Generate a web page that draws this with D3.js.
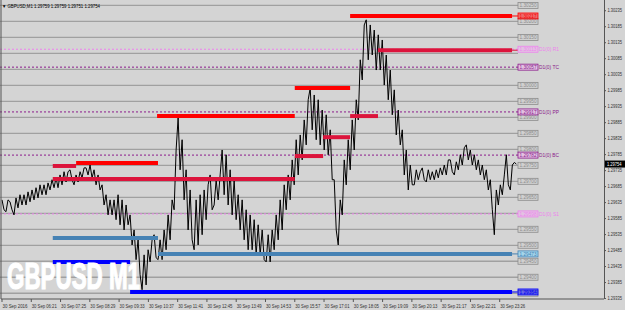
<!DOCTYPE html>
<html>
<head>
<meta charset="utf-8">
<script src="https://cdnjs.cloudflare.com/ajax/libs/d3/7.8.5/d3.min.js"></script>
<style>
  body { margin: 0; background: #d4d4d4; }
  svg { display: block; font-family: "Liberation Sans", Tahoma, sans-serif; }
</style>
</head>
<body>
<svg></svg>
<script>
  var width = 625;
  var height = 310;

  // price samples (high, low) every 8.75 minutes from 05:17
  var sampleStep = 8.75;
  var highs = [1.29642,1.29642,1.29636,1.29648,1.29658,1.29658,1.29667,1.29673,1.29680,1.29689,1.29689,1.29695,1.29705,1.29711,1.29720,1.29730,1.29730,1.29736,1.29720,1.29730,1.29742,1.29742,1.29751,1.29736,1.29720,1.29689,1.29658,1.29642,1.29642,1.29658,1.29642,1.29626,1.29595,1.29548,1.29517,1.29470,1.29486,1.29517,1.29533,1.29517,1.29548,1.29595,1.29642,1.29798,1.29898,1.29830,1.29736,1.29673,1.29642,1.29658,1.29673,1.29689,1.29720,1.29705,1.29720,1.29798,1.29783,1.29736,1.29705,1.29658,1.29642,1.29611,1.29595,1.29580,1.29564,1.29548,1.29533,1.29548,1.29595,1.29642,1.29689,1.29720,1.29767,1.29830,1.29845,1.29892,1.29955,1.29992,1.29970,1.29955,1.29923,1.29908,1.29861,1.29705,1.29642,1.29767,1.29830,1.29892,1.29955,1.30080,1.30189,1.30205,1.30189,1.30173,1.30158,1.30142,1.30095,1.30048,1.29986,1.29923,1.29861,1.29798,1.29751,1.29736,1.29730,1.29742,1.29736,1.29730,1.29736,1.29742,1.29751,1.29767,1.29767,1.29761,1.29783,1.29805,1.29814,1.29798,1.29783,1.29767,1.29751,1.29736,1.29705,1.29673,1.29689,1.29720,1.29783,1.29751,1.29759];
  var lows = [1.29611,1.29605,1.29611,1.29595,1.29617,1.29626,1.29626,1.29636,1.29642,1.29648,1.29658,1.29658,1.29673,1.29680,1.29680,1.29689,1.29698,1.29705,1.29689,1.29698,1.29711,1.29720,1.29711,1.29689,1.29673,1.29626,1.29595,1.29595,1.29580,1.29564,1.29548,1.29564,1.29501,1.29455,1.29408,1.29361,1.29376,1.29448,1.29461,1.29455,1.29455,1.29486,1.29517,1.29611,1.29736,1.29642,1.29548,1.29517,1.29486,1.29501,1.29533,1.29580,1.29611,1.29626,1.29642,1.29658,1.29626,1.29595,1.29580,1.29548,1.29517,1.29486,1.29486,1.29470,1.29470,1.29455,1.29448,1.29448,1.29486,1.29517,1.29548,1.29611,1.29642,1.29689,1.29720,1.29767,1.29814,1.29861,1.29830,1.29814,1.29798,1.29783,1.29705,1.29548,1.29501,1.29595,1.29689,1.29736,1.29798,1.29892,1.30017,1.30080,1.30095,1.30048,1.30048,1.30001,1.29955,1.29908,1.29845,1.29814,1.29720,1.29673,1.29689,1.29689,1.29705,1.29705,1.29698,1.29705,1.29705,1.29711,1.29720,1.29720,1.29730,1.29720,1.29736,1.29751,1.29767,1.29751,1.29736,1.29720,1.29705,1.29673,1.29611,1.29533,1.29626,1.29658,1.29689,1.29673,1.29754];

  // round-number levels (gray)
  var roundLevels = [1.30250,1.30200,1.30150,1.30100,1.30050,1.30000,1.29950,1.29900,1.29850,1.29800,1.29750,1.29700,1.29650,1.29600,1.29550,1.29500,1.29450,1.29400,1.29350];

  // pivot levels
  var pivotNames = ['R1', 'TC', 'PP', 'BC', 'S1'];
  var pivotPrices = [1.30113, 1.30057, 1.29917, 1.29782, 1.29598];
  var pivotColors = ['#ee82ee', '#8b1a8b', '#8b1a8b', '#8b1a8b', '#ee82ee'];

  // support / resistance segments: start min, end min, price, colour
  var zoneStart = [761, 822, 640, 339, 761, 702, 640, 162, 111, 111, 111, 341, 111, 280];
  var zoneEnd   = [1115, 1115, 761, 640, 822, 761, 702, 341, 162, 640, 341, 1115, 280, 1115];
  var zonePrice = [1.30217, 1.30110, 1.29992, 1.29904, 1.29904, 1.29838, 1.29779, 1.29757, 1.29748, 1.29707, 1.29523, 1.29473, 1.29448, 1.29354];
  var zoneColor = ['#ff0000', '#dc143c', '#ff0000', '#ff0000', '#dc143c', '#dc143c', '#dc143c', '#ff0000', '#dc143c', '#dc143c', '#4682b4', '#4682b4', '#0000ff', '#0000ff'];

  var priceTicks = [1.30235,1.30185,1.30135,1.30085,1.30035,1.29985,1.29935,1.29885,1.29835,1.29785,1.29735,1.29685,1.29635,1.29585,1.29535,1.29485,1.29435,1.29385,1.29335];
  var timeLabels = ['30 Sep 2016','30 Sep 06:21','30 Sep 07:25','30 Sep 08:29','30 Sep 09:33','30 Sep 10:37','30 Sep 11:41','30 Sep 12:45','30 Sep 13:49','30 Sep 14:53','30 Sep 15:57','30 Sep 17:01','30 Sep 18:05','30 Sep 19:09','30 Sep 20:13','30 Sep 21:17','30 Sep 22:21','30 Sep 23:26'];
  var lastPrice = 1.29754;

  var svg = d3.select('svg')
    .attr('width', width)
    .attr('height', height)
    ;

  var plotRight = 604;
  var plotBottom = 299;
  var labelX = 518;

  var x = d3.scaleLinear().domain([0, 1316]).range([2, plotRight]);
  var y = d3.scaleLinear().domain([1.29332, 1.30267]).range([plotBottom, 0]);
  var fmt = d3.format('.5f');

  svg.append('rect')
    .attr('width', width)
    .attr('height', height)
    .attr('fill', '#d4d4d4');

  // gray round levels
  svg.selectAll('line.round')
    .data(roundLevels)
    .enter()
    .append('line')
    .attr('class', 'round')
    .attr('x1', 0)
    .attr('x2', labelX)
    .attr('y1', function (d) { return y(d); })
    .attr('y2', function (d) { return y(d); })
    .attr('stroke', '#a0a0a0')
    .attr('stroke-width', 1.3);

  // pivot dotted lines
  svg.selectAll('line.pivot')
    .data(pivotPrices)
    .enter()
    .append('line')
    .attr('class', 'pivot')
    .attr('x1', 0)
    .attr('x2', labelX)
    .attr('y1', function (d) { return y(d); })
    .attr('y2', function (d) { return y(d); })
    .attr('stroke', function (d, i) { return pivotColors[i]; })
    .attr('stroke-width', 1)
    .attr('stroke-dasharray', '2,2');

  // price line: inside each sample go low->high when rising, high->low when falling
  var pts = [];
  highs.forEach(function (h, i) {
    var t = i * sampleStep;
    var mid = (h + lows[i]) / 2;
    var next = i < highs.length - 1 ? (highs[i + 1] + lows[i + 1]) / 2 : mid;
    if (next > mid) {
      pts.push([t, lows[i]]);
      pts.push([t + sampleStep * 0.5, h]);
    } else {
      pts.push([t, h]);
      pts.push([t + sampleStep * 0.5, lows[i]]);
    }
  });
  svg.append('path')
    .datum(pts)
    .attr('d', d3.line()
      .x(function (d) { return x(d[0]); })
      .y(function (d) { return y(d[1]); }))
    .attr('fill', 'none')
    .attr('stroke', '#000')
    .attr('stroke-width', 1);

  // zone segments
  svg.selectAll('line.zone')
    .data(zonePrice)
    .enter()
    .append('line')
    .attr('class', 'zone')
    .attr('x1', function (d, i) { return x(zoneStart[i]); })
    .attr('x2', function (d, i) { return x(zoneEnd[i]); })
    .attr('y1', function (d) { return y(d); })
    .attr('y2', function (d) { return y(d); })
    .attr('stroke', function (d, i) { return zoneColor[i]; })
    .attr('stroke-width', 4);

  // thin connectors from long zones to the label column
  var joined = [0, 1, 11, 13];
  var boxed = [0, 11, 13];
  svg.selectAll('line.conn')
    .data(joined)
    .enter()
    .append('line')
    .attr('x1', function (d) { return x(zoneEnd[d]); })
    .attr('x2', labelX)
    .attr('y1', function (d) { return y(zonePrice[d]); })
    .attr('y2', function (d) { return y(zonePrice[d]); })
    .attr('stroke', function (d) { return zoneColor[d]; })
    .attr('stroke-width', 1);

  // label boxes
  function drawBox(price, stroke, fill, txt) {
    var g = svg.append('g')
      .attr('transform', 'translate(' + labelX + ',' + y(price) + ')');
    g.append('rect')
      .attr('x', 0)
      .attr('y', -3)
      .attr('width', 20)
      .attr('height', 6)
      .attr('fill', fill)
      .attr('stroke', stroke)
      .attr('stroke-width', 0.8);
    g.append('text')
      .attr('x', 1.5)
      .attr('y', 1.8)
      .attr('font-size', 5)
      .attr('textLength', 17)
      .attr('lengthAdjust', 'spacingAndGlyphs')
      .attr('fill', txt)
      .text(fmt(price));
    return g;
  }
  // round labels hidden behind a pivot label are skipped
  roundLevels.forEach(function (p) {
    var covered = pivotPrices.some(function (q) { return Math.abs(q - p) < 0.00015; });
    if (!covered) {
      drawBox(p, '#8c8c8c', '#d0d0d0', '#8c8c8c');
    }
  });
  boxed.forEach(function (d) {
    drawBox(zonePrice[d], zoneColor[d], d3.color(zoneColor[d]).brighter(1.4).copy({opacity: 0.5}), zoneColor[d]);
  });
  pivotPrices.forEach(function (p, i) {
    var g = drawBox(p, pivotColors[i], '#e2c2e2', pivotColors[i]);
    g.append('text')
      .attr('x', 21)
      .attr('y', 1.8)
      .attr('font-size', 5)
      .attr('textLength', 20)
      .attr('lengthAdjust', 'spacingAndGlyphs')
      .attr('fill', pivotColors[i])
      .text('D1(0)  ' + pivotNames[i]);
  });

  // frame
  svg.append('line')
    .attr('x1', 1).attr('x2', 1)
    .attr('y1', 0).attr('y2', plotBottom)
    .attr('stroke', '#555');
  svg.append('line')
    .attr('x1', 1).attr('x2', plotRight)
    .attr('y1', plotBottom).attr('y2', plotBottom)
    .attr('stroke', '#555');

  // right price axis
  var yAxis = d3.axisRight(y)
    .tickValues(priceTicks)
    .tickFormat(fmt)
    .tickSize(2)
    .tickPadding(1.5);
  var ya = svg.append('g')
    .attr('transform', 'translate(' + plotRight + ',0)')
    .call(yAxis);
  ya.select('.domain').attr('stroke', '#555').attr('d', 'M0.5,0V' + plotBottom);
  ya.selectAll('.tick line').attr('stroke', '#555');
  ya.selectAll('.tick text')
    .attr('font-size', 5.2)
    .attr('fill', '#333')
    .attr('textLength', 14.5)
    .attr('lengthAdjust', 'spacingAndGlyphs')
    .attr('font-family', '"Liberation Sans", sans-serif');

  // current price marker
  svg.append('rect')
    .attr('x', plotRight + 1)
    .attr('y', y(lastPrice) - 3.5)
    .attr('width', 20)
    .attr('height', 7)
    .attr('fill', '#000');
  svg.append('text')
    .attr('x', plotRight + 3)
    .attr('y', y(lastPrice) + 2)
    .attr('font-size', 5.2)
    .attr('textLength', 14.5)
    .attr('lengthAdjust', 'spacingAndGlyphs')
    .attr('fill', '#fff')
    .text(fmt(lastPrice));

  // time axis
  var tg = svg.selectAll('g.time')
    .data(timeLabels)
    .enter()
    .append('g')
    .attr('class', 'time')
    .attr('transform', function (d, i) { return 'translate(' + x(i * 64) + ',' + plotBottom + ')'; });
  tg.append('line')
    .attr('y1', 0)
    .attr('y2', 3)
    .attr('stroke', '#555');
  tg.append('text')
    .attr('x', 0.5)
    .attr('y', 8.5)
    .attr('font-size', 5)
    .attr('textLength', 25)
    .attr('lengthAdjust', 'spacingAndGlyphs')
    .attr('fill', '#333')
    .text(function (d) { return d; });

  // header
  svg.append('text')
    .attr('x', 2)
    .attr('y', 7.5)
    .attr('font-size', 5)
    .attr('textLength', 98)
    .attr('lengthAdjust', 'spacingAndGlyphs')
    .attr('fill', '#000')
    .text('\u25BC GBPUSD,M1  1.29759 1.29759 1.29751 1.29754');

  // watermark
  svg.append('text')
    .attr('x', 7)
    .attr('y', 289)
    .attr('font-size', 36)
    .attr('font-weight', 'bold')
    .attr('font-family', '"Liberation Sans", Arial, sans-serif')
    .attr('fill', '#fff')
    .attr('stroke', '#fff')
    .attr('stroke-width', 1.2)
    .attr('textLength', 133)
    .attr('lengthAdjust', 'spacingAndGlyphs')
    .text('GBPUSD M1');
</script>
</body>
</html>
